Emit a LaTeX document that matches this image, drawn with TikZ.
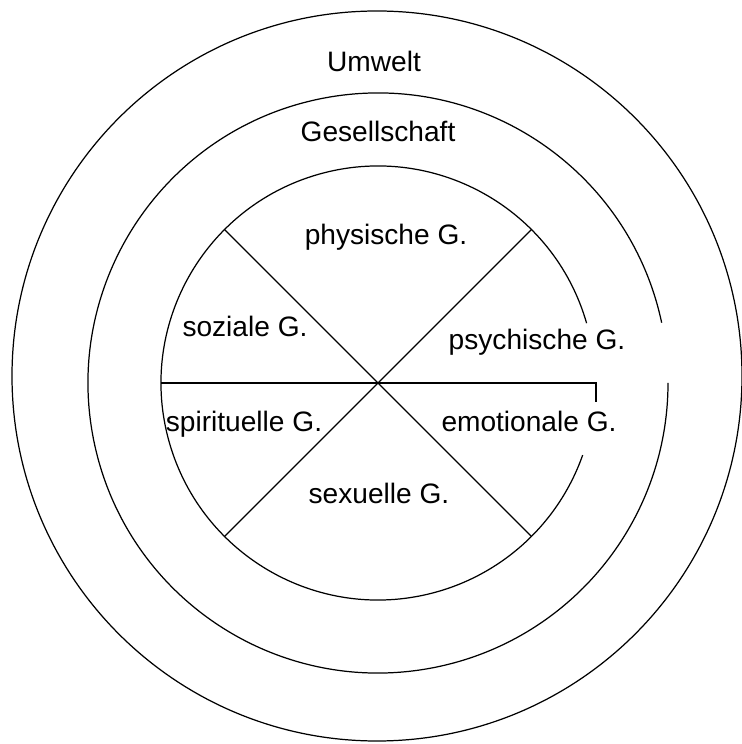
\documentclass[tikz,border=0pt]{standalone}
\usepackage{fontspec}
\setmainfont{Liberation Sans}
\usetikzlibrary{calc}

\begin{document}
\begin{tikzpicture}[x=0.02cm, y=0.02cm, line width=0.7pt,
        lbl/.style={anchor=base, inner sep=0pt, font=\fontsize{16}{19}\selectfont}]
        \useasboundingbox (0, 0) rectangle (742, 744);
        \coordinate (o) at (377, 368);
        \coordinate (m) at (378, 361);
        % rings
        \draw (o) circle [radius=365];
        \draw ($(m)+(12:290)$) arc [start angle=12, end angle=360, radius=290];
        \draw ($(m)+(16:217)$) arc [start angle=16, end angle=340.6, radius=217];
        % spokes
        \foreach \a in {45, 135}{
            \draw ($(m)+(\a:217)$) -- ($(m)+(\a+180:217)$);
        }
        \draw ($(m)+(180:217)$) -- ++(435, 0) -- ++(0, -19);
        \node (umwelt) [lbl] at (374, 672) {Umwelt};
        \node (gesell) [lbl] at (378, 602) {Gesellschaft};
        \node (physisch) [lbl] at (386, 499) {physische G.};
        \node (sozial) [lbl] at (245, 407) {soziale G.};
        \node (psychisch) [lbl] at (537, 394) {psychische G.};
        \node (spirituell) [lbl] at (244, 312) {spirituelle G.};
        \node (emotional) [lbl] at (529, 312) {emotionale G.};
        \node (sexuell) [lbl] at (379, 240) {sexuelle G.};
    \end{tikzpicture}
\end{document}
